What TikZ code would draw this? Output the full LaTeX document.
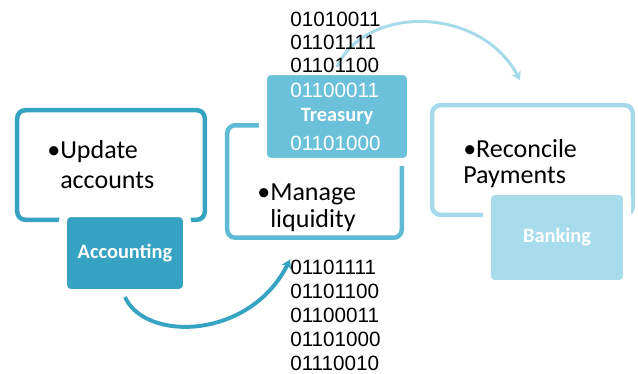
\documentclass[tikz,border=0pt]{standalone}
\usepackage{fontspec}
\setmainfont{Carlito}
\newfontfamily\digitsfont{Liberation Sans}
\usetikzlibrary{arrows.meta,positioning}
\definecolor{acctblue}{HTML}{37A3C3}
\definecolor{treasline}{HTML}{5FBAD5}
\definecolor{treasblue}{HTML}{6BC0DA}
\definecolor{bankline}{HTML}{A6DAEB}
\definecolor{bankblue}{HTML}{A8DCED}

\begin{document}
\begin{tikzpicture}[x=0.025cm,y=-0.025cm] % one unit is one pixel, y runs downwards
\tikzset{taskframe/.style={draw=#1,line width=3.2pt,rounded corners=5.7pt,inner sep=0}} % open boxes with the tasks
\tikzset{deptbox/.style={fill=#1,draw=white,line width=5.7pt,rounded corners=5.7pt,inner sep=0,text=white,font=\bfseries\fontsize{14.5pt}{17pt}\selectfont}} % filled boxes with the departments
\tikzset{bullets/.style={font=\fontsize{18.5pt}{#1}\selectfont,align=left,inner sep=0,anchor=base west}} % placed by the baseline of the last line
\tikzset{digits/.style={font=\digitsfont\fontsize{14.7pt}{#1}\selectfont,align=left,inner sep=0,anchor=base west},digits/.default=16.7pt}
\tikzset{flow/.style={line width=#1,-{Stealth[length=6pt,width=7.5pt]}}}
\useasboundingbox (0,0) rectangle (638,374);

% task frames
\node[taskframe=acctblue,minimum width=133.4pt,minimum height=77.9pt] (acctframe) at (111,165) {};
\node[taskframe=treasline,minimum width=124.1pt,minimum height=80pt] (treasframe) at (314.5,181.5) {};
\node[taskframe=bankline,minimum width=142.6pt,minimum height=77.9pt] (bankframe) at (532.5,160) {};

% departments
\node[deptbox=acctblue,minimum width=88.2pt,minimum height=56.9pt] (acct) at (125,253) {Accounting};
\node[deptbox=treasblue,minimum width=105.3pt,minimum height=64.7pt] (treas) at (337,116.5) {Treasury};
\node[deptbox=bankblue,minimum width=99.6pt,minimum height=66.2pt] (bank) at (557,237.5) {Banking};

\node[bullets=21.3pt] (accttext) at (60,188) {\llap{\textbullet}Update\\accounts};
\node[bullets=19.1pt] (treastext) at (270,227) {\llap{\textbullet}Manage\\liquidity};
\node[bullets=18.4pt] (banktext) at (463,183) {\textbullet Reconcile\\Payments};

% arrows between the steps
\coordinate (banktip) at (520,80);
\draw[flow=2.1pt,bankline] (treas.north) .. controls (365,5) and (480,5) .. (banktip);

% the bit strings
\node[digits=16.4pt] (binhigh) at (290,73) {01010011\\01101111\\01101100};
\node[digits,text=white] (binmid) at (290,98) {01100011};
\node[digits,text=white] (binmid2) at (290,150) {01101000};
\node[digits=17pt] (binlow) at (290,370) {01101111\\01101100\\01100011\\01101000\\01110010};

\draw[flow=2.8pt,acctblue] (acct.south) .. controls (145,342) and (250,340) .. (binlow.north west);

\node[anchor=base west,inner sep=0,font=\digitsfont\bfseries\fontsize{15pt}{18pt}\selectfont] (integrate) at (3,389) {To\hspace{10pt}INTEGRATE};
\end{tikzpicture}
\end{document}
